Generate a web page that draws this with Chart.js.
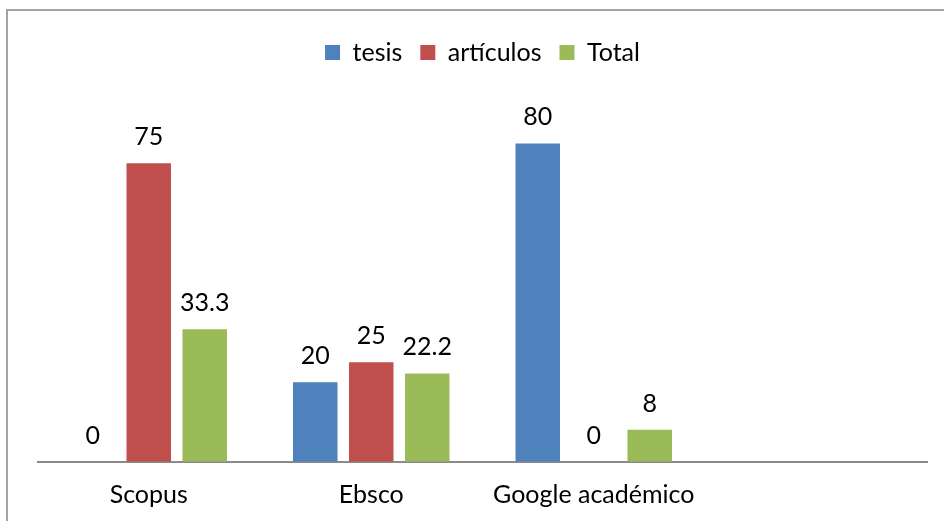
<!DOCTYPE html>
<html>
<head>
<meta charset="utf-8">
<script src="https://cdn.jsdelivr.net/npm/chart.js@4/dist/chart.umd.min.js"></script>
<style>
  html, body { margin: 0; padding: 0; background: #fff; overflow: hidden; }
  #frame { position: absolute; left: 6px; top: 9px; width: 1000px; height: 600px; border: 2px solid #a3a3a3; }
  #wrap { position: absolute; left: 0; top: 0; width: 944px; height: 530px; }
</style>
</head>
<body>
<div id="frame"></div>
<div id="wrap"><canvas id="myChart"></canvas></div>
<script>
var categories = ["Scopus", "Ebsco", "Google académico", ""];
var tesis = [0, 20, 80, null];
var articulos = [75, 25, 0, null];
var total = [33.3, 22.2, 8, null];

var fontName = "Lato, 'Liberation Sans', sans-serif";

// value labels above each bar
var valueLabels = {
  id: "valueLabels",
  afterDatasetsDraw: function(chart) {
    var ctx = chart.ctx;
    ctx.save();
    ctx.font = "25px " + fontName;
    ctx.fillStyle = "#000";
    ctx.textAlign = "center";
    ctx.textBaseline = "alphabetic";
    chart.data.datasets.forEach(function(ds, i) {
      var meta = chart.getDatasetMeta(i);
      meta.data.forEach(function(bar, j) {
        var v = ds.data[j];
        if (v === null || v === undefined) return;
        ctx.fillText(String(v), bar.x, bar.y - 18);
      });
    });
    ctx.restore();
  }
};

var ctx = document.getElementById("myChart");
var myChart = new Chart(ctx, {
  type: "bar",
  data: {
    labels: categories,
    datasets: [
      { label: "tesis", data: tesis, backgroundColor: "#4F81BD" },
      { label: "artículos", data: articulos, backgroundColor: "#C0504D" },
      { label: "Total", data: total, backgroundColor: "#9BBB59" }
    ]
  },
  options: {
    responsive: true,
    maintainAspectRatio: false,
    animation: false,
    categoryPercentage: 0.755,
    barPercentage: 0.795,
    layout: { padding: { left: 37.5, right: 16.5, top: 22, bottom: 1.3 } },
    plugins: {
      legend: {
        position: "top",
        labels: {
          font: { family: fontName, size: 25 },
          color: "#000",
          boxWidth: 15,
          boxHeight: 15,
          padding: 18
        }
      },
      tooltip: { enabled: false }
    },
    scales: {
      x: {
        grid: { display: false, drawTicks: false },
        border: { display: true, color: "#8a8a8a", width: 2 },
        ticks: {
          font: { family: fontName, size: 25 },
          color: "#000",
          padding: 18.5,
          maxRotation: 0,
          autoSkip: false
        }
      },
      y: {
        display: false,
        min: 0,
        max: 97.2
      }
    }
  },
  plugins: [valueLabels]
});
</script>
</body>
</html>
